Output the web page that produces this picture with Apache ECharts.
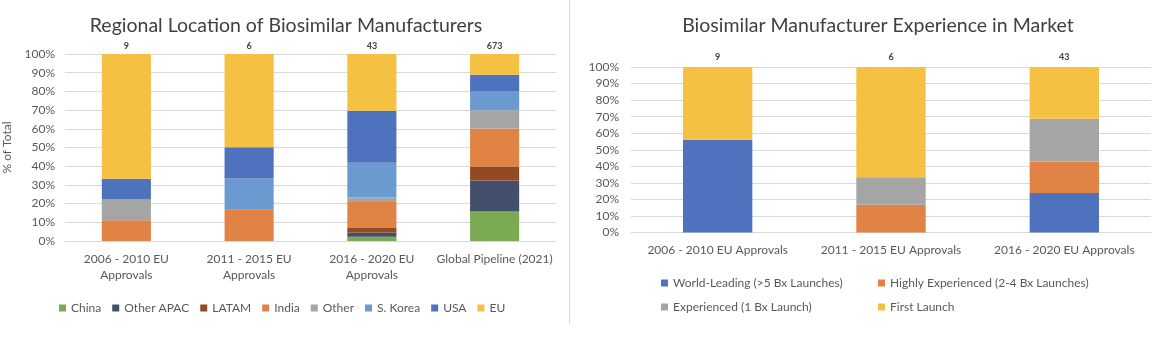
<!DOCTYPE html>
<html>
<head>
<meta charset="utf-8">
<script src="https://cdn.jsdelivr.net/npm/echarts@6/dist/echarts.min.js"></script>
<style>
html,body{margin:0;padding:0;background:#fff;}
#c{width:1158px;height:341px;}
</style>
</head>
<body>
<div id="c"></div>
<script>
// ---- Left chart data (% of total) ----
var catsLeft = ["2006 - 2010 EU Approvals", "2011 - 2015 EU Approvals", "2016 - 2020 EU Approvals", "Global Pipeline (2021)"];
var totalsLeft = [9, 6, 43, 673];
var china     = [0, 0, 2.3, 15.8];
var otherApac = [0, 0, 2.3, 16.5];
var latam     = [0, 0, 2.3, 7.5];
var india     = [11.1, 16.7, 14.0, 20.3];
var other     = [11.1, 0, 2.3, 9.8];
var sKorea    = [0, 16.7, 18.6, 10.0];
var usa       = [11.1, 16.7, 27.9, 9.0];
var eu        = [66.7, 49.9, 30.3, 11.1];

// ---- Right chart data (% of total) ----
var catsRight = ["2006 - 2010 EU Approvals", "2011 - 2015 EU Approvals", "2016 - 2020 EU Approvals"];
var totalsRight = [9, 6, 43];
var worldLeading = [56.0, 0, 23.8];
var highlyExp    = [0, 16.7, 19.1];
var experienced  = [0, 16.7, 25.8];
var firstLaunch  = [44.0, 66.6, 31.3];

var yTicks = { min: 0, max: 100, interval: 10 };

var FONT = 'Lato, "Open Sans", sans-serif';
var TXT = '#595959';
var GRID = '#d9d9d9';

var chart = echarts.init(document.getElementById('c'), null, {renderer: 'canvas'});

function barSeries(name, data, xi, stack, color, totals, labelDist) {
  var s = {
    name: name, type: 'bar', stack: stack, data: data,
    xAxisIndex: xi, yAxisIndex: xi,
    barWidth: '40%',
    itemStyle: { color: color },
    emphasis: { disabled: true }
  };
  if (totals) {
    s.label = {
      show: true, position: 'top', distance: labelDist,
      fontFamily: FONT, fontSize: 9, fontWeight: 'bold', color: '#404040',
      formatter: function (p) { return String(totals[p.dataIndex]); }
    };
  }
  return s;
}

var C = {
  china: '#7BAA52', apac: '#434F6B', latam: '#924A22', india: '#E08344',
  other: '#A5A5A5', korea: '#6A9ACF', usa: '#4F72BF', eu: '#F4C143'
};

var legendCommon = {
  itemWidth: 7, itemHeight: 7, icon: 'rect', itemGap: 11,
  textStyle: { fontFamily: FONT, fontSize: 12, color: TXT },
  selectedMode: false
};

var option = {
  animation: false,
  backgroundColor: '#fff',
  title: [
    { text: 'Regional Location of Biosimilar Manufacturers', left: 281, top: 11, textAlign: 'center',
      textStyle: { fontFamily: FONT, fontSize: 19.5, fontWeight: 'normal', color: '#404040' } },
    { text: 'Biosimilar Manufacturer Experience in Market', left: 873, top: 11, textAlign: 'center',
      textStyle: { fontFamily: FONT, fontSize: 19.5, fontWeight: 'normal', color: '#404040' } }
  ],
  graphic: [
    { type: 'line', shape: { x1: 569.5, y1: 0, x2: 569.5, y2: 324 }, style: { stroke: GRID, lineWidth: 1 } }
  ],
  legend: [
    Object.assign({}, legendCommon, { left: 54, top: 297,
      data: ['China', 'Other APAC', 'LATAM', 'India', 'Other', 'S. Korea', 'USA', 'EU'] }),
    Object.assign({}, legendCommon, { left: 656, top: 272, data: ['World-Leading (>5 Bx Launches)'] }),
    Object.assign({}, legendCommon, { left: 873, top: 272, data: ['Highly Experienced (2-4 Bx Launches)'] }),
    Object.assign({}, legendCommon, { left: 656, top: 296, data: ['Experienced (1 Bx Launch)'] }),
    Object.assign({}, legendCommon, { left: 873, top: 296, data: ['First Launch'] })
  ],
  grid: [
    { left: 63, top: 54, width: 493, height: 187 },
    { left: 631, top: 67, width: 520, height: 165.5 }
  ],
  xAxis: [
    { type: 'category', gridIndex: 0, data: catsLeft,
      axisLine: { lineStyle: { color: GRID } }, axisTick: { show: false },
      axisLabel: { fontFamily: FONT, fontSize: 12, color: TXT, margin: 10, lineHeight: 16, interval: 0,
        formatter: function (v) { return v.replace(' Approvals', '\nApprovals'); } } },
    { type: 'category', gridIndex: 1, data: catsRight,
      axisLine: { lineStyle: { color: GRID } }, axisTick: { show: false },
      axisLabel: { fontFamily: FONT, fontSize: 12, color: TXT, margin: 12, interval: 0 } }
  ],
  yAxis: [
    { type: 'value', gridIndex: 0, min: yTicks.min, max: yTicks.max, interval: yTicks.interval,
      name: '% of Total', nameLocation: 'middle', nameRotate: 90, nameGap: 52,
      nameTextStyle: { fontFamily: FONT, fontSize: 12, color: TXT },
      axisLine: { show: false }, axisTick: { show: false },
      splitLine: { lineStyle: { color: GRID } },
      axisLabel: { fontFamily: FONT, fontSize: 12, color: TXT, margin: 10, formatter: '{value}%' } },
    { type: 'value', gridIndex: 1, min: yTicks.min, max: yTicks.max, interval: yTicks.interval,
      axisLine: { show: false }, axisTick: { show: false },
      splitLine: { lineStyle: { color: GRID } },
      axisLabel: { fontFamily: FONT, fontSize: 12, color: TXT, margin: 12, formatter: '{value}%' } }
  ],
  series: [
    barSeries('China', china, 0, 'L', C.china),
    barSeries('Other APAC', otherApac, 0, 'L', C.apac),
    barSeries('LATAM', latam, 0, 'L', C.latam),
    barSeries('India', india, 0, 'L', C.india),
    barSeries('Other', other, 0, 'L', C.other),
    barSeries('S. Korea', sKorea, 0, 'L', C.korea),
    barSeries('USA', usa, 0, 'L', C.usa),
    barSeries('EU', eu, 0, 'L', C.eu, totalsLeft, 3),
    barSeries('World-Leading (>5 Bx Launches)', worldLeading, 1, 'R', C.usa),
    barSeries('Highly Experienced (2-4 Bx Launches)', highlyExp, 1, 'R', C.india),
    barSeries('Experienced (1 Bx Launch)', experienced, 1, 'R', C.other),
    barSeries('First Launch', firstLaunch, 1, 'R', C.eu, totalsRight, 5)
  ]
};
chart.setOption(option);
</script>
</body>
</html>
